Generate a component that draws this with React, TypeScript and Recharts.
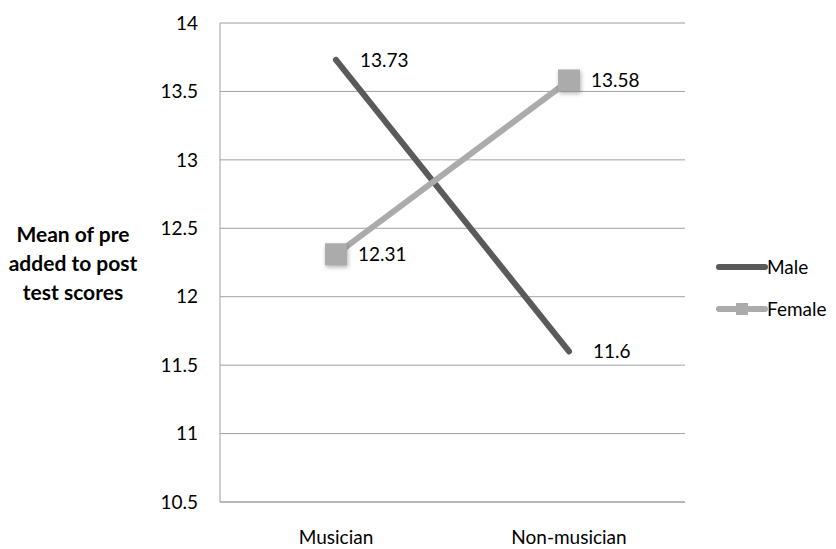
import React from 'react';
import { LineChart, Line, CartesianGrid, XAxis, YAxis, LabelList } from 'recharts';

const groups = ['Musician', 'Non-musician'];
const maleScores = [13.73, 11.6];
const femaleScores = [12.31, 13.58];
const yTicks = [10.5, 11, 11.5, 12, 12.5, 13, 13.5, 14];

const MALE = '#5a5a5a';
const FEMALE = '#ababab';
const FONT = 'Lato, "Open Sans", sans-serif';

const data = groups.map((g, i) => ({ group: g, Male: maleScores[i], Female: femaleScores[i] }));

const SquareDot = (props: any) => {
  const { cx, cy } = props;
  if (cx == null || cy == null) return null;
  return (
    <rect
      x={cx - 11}
      y={cy - 11}
      width={22}
      height={22}
      fill={FEMALE}
      style={{ filter: 'drop-shadow(1px 2px 2px rgba(0,0,0,0.3))' }}
    />
  );
};

// legend drawn beside the plot so it doesn't eat into the chart margins
const LegendBox = () => (
  <svg width={130} height={80} style={{ position: 'absolute', left: 712, top: 252 }}>
    <line x1={7} y1={15} x2={53} y2={15} stroke={MALE} strokeWidth={6} strokeLinecap="round" />
    <text x={55} y={15} dy="0.35em" fontSize={19} fill="#000" fontFamily={FONT}>Male</text>
    <line x1={7} y1={57} x2={53} y2={57} stroke={FEMALE} strokeWidth={6} strokeLinecap="round" />
    <rect x={24} y={51} width={12} height={12} fill={FEMALE} />
    <text x={55} y={57} dy="0.35em" fontSize={19} fill="#000" fontFamily={FONT}>Female</text>
  </svg>
);

export default function App() {
  return (
    <div style={{ position: 'absolute', left: 0, top: 0, width: 836, height: 549, background: '#fff', fontFamily: FONT }}>
      <div
        style={{
          position: 'absolute',
          left: 0,
          top: 219,
          width: 146,
          textAlign: 'center',
          fontWeight: 'bold',
          fontSize: 21,
          lineHeight: '29px',
          color: '#000',
        }}
      >
        Mean of pre
        <br />
        added to post
        <br />
        test scores
      </div>
      <LineChart width={836} height={549} data={data} margin={{ top: 23, right: 151, left: 160, bottom: 17 }}>
        <CartesianGrid vertical={false} stroke="#a0a0a0" />
        <XAxis
          dataKey="group"
          height={30}
          padding={{ left: 116, right: 116 }}
          axisLine={{ stroke: '#a0a0a0' }}
          tickLine={false}
          tickSize={0}
          tickMargin={29}
          tick={{ fill: '#000', fontSize: 19, fontFamily: FONT }}
        />
        <YAxis
          width={60}
          domain={[10.5, 14]}
          ticks={yTicks}
          axisLine={{ stroke: '#a0a0a0' }}
          tickLine={false}
          tickSize={0}
          tickMargin={22}
          tick={{ fill: '#000', fontSize: 19, fontFamily: FONT }}
        />
        <Line
          dataKey="Male"
          stroke={MALE}
          strokeWidth={6}
          strokeLinecap="round"
          dot={false}
          activeDot={false}
          isAnimationActive={false}
        >
          <LabelList dataKey="Male" position="right" offset={24} fill="#000" fontSize={19} fontFamily={FONT} />
        </Line>
        <Line
          dataKey="Female"
          stroke={FEMALE}
          strokeWidth={6}
          strokeLinecap="round"
          dot={<SquareDot />}
          activeDot={false}
          isAnimationActive={false}
        >
          <LabelList dataKey="Female" position="right" offset={22} fill="#000" fontSize={19} fontFamily={FONT} />
        </Line>
      </LineChart>
      <LegendBox />
    </div>
  );
}
